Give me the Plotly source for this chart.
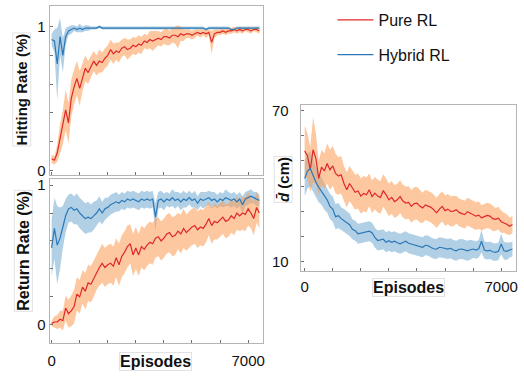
import numpy as np
import plotly.graph_objects as go

W, H = 524, 377

episodes = list(range(0, 7500, 100))

hit_pure = [0.08,0.07,0.12,0.22,0.30,0.42,0.33,0.50,0.58,0.64,
            0.57,0.65,0.71,0.68,0.72,0.76,0.73,0.76,0.75,0.78,
            0.80,0.84,0.81,0.83,0.82,0.85,0.86,0.84,0.85,0.87,
            0.86,0.88,0.87,0.90,0.89,0.91,0.90,0.91,0.92,0.91,
            0.93,0.93,0.92,0.94,0.94,0.93,0.95,0.94,0.95,0.95,
            0.94,0.95,0.96,0.95,0.96,0.95,0.96,0.89,0.95,0.96,
            0.96,0.97,0.96,0.97,0.97,0.98,0.97,0.98,0.97,0.98,
            0.98,0.97,0.98,0.98,0.97]
hit_pure_sd = [0.03,0.03,0.06,0.10,0.12,0.14,0.14,0.13,0.12,0.12,
               0.12,0.10,0.09,0.08,0.08,0.07,0.07,0.08,0.07,0.07,
               0.07,0.07,0.07,0.06,0.07,0.06,0.06,0.07,0.06,0.06,
               0.06,0.06,0.06,0.05,0.05,0.06,0.07,0.06,0.05,0.05,
               0.05,0.06,0.05,0.05,0.06,0.08,0.05,0.04,0.03,0.03,
               0.03,0.03,0.02,0.03,0.02,0.03,0.02,0.08,0.03,0.02,
               0.02,0.02,0.02,0.02,0.02,0.02,0.02,0.02,0.02,0.01,
               0.02,0.02,0.01,0.02,0.02]
hit_hybrid = [0.91,0.90,0.74,0.93,0.80,0.93,0.97,0.98,0.99,0.98,
              0.99,0.98,0.99,0.99,0.99,0.99,0.99,1.00,0.99,0.99,
              0.99,0.99,0.99,0.99,0.99,0.99,0.99,0.99,0.985,0.99,
              0.99,0.99,0.99,0.99,0.99,0.99,0.99,0.99,0.99,0.99,
              0.99,0.99,0.99,0.99,0.99,0.99,0.99,0.99,0.99,0.99,
              0.99,0.99,0.99,0.99,0.99,0.98,0.99,0.99,0.99,0.99,
              0.99,0.99,0.99,0.99,0.98,0.98,0.99,0.99,0.99,0.99,
              0.99,0.99,0.99,0.99,0.99]
hit_hybrid_sd = [0.04,0.08,0.25,0.13,0.12,0.06,0.03,0.03,0.02,0.02,
                 0.03,0.02,0.02,0.02,0.01,0.01,0.01,0.01,0.01,0.01,
                 0.01,0.01,0.01,0.01,0.01,0.01,0.01,0.01,0.01,0.01,
                 0.01,0.01,0.01,0.01,0.01,0.01,0.01,0.01,0.01,0.01,
                 0.01,0.01,0.01,0.01,0.01,0.01,0.01,0.01,0.01,0.01,
                 0.01,0.01,0.01,0.01,0.01,0.01,0.01,0.01,0.01,0.01,
                 0.01,0.01,0.01,0.01,0.01,0.01,0.01,0.01,0.01,0.01,
                 0.01,0.01,0.01,0.01,0.01]

ret_pure = [0.01,0.02,0.02,0.04,0.03,0.12,0.08,0.10,0.13,0.22,
            0.20,0.27,0.24,0.30,0.29,0.33,0.38,0.41,0.44,0.41,
            0.43,0.44,0.42,0.48,0.43,0.49,0.52,0.56,0.58,0.50,
            0.55,0.50,0.56,0.54,0.57,0.59,0.58,0.62,0.63,0.60,
            0.62,0.65,0.66,0.63,0.64,0.67,0.65,0.69,0.66,0.68,
            0.70,0.71,0.68,0.70,0.69,0.72,0.76,0.71,0.74,0.73,
            0.75,0.77,0.74,0.75,0.78,0.76,0.80,0.78,0.80,0.79,
            0.83,0.80,0.76,0.84,0.80]
ret_pure_sd = [0.02,0.04,0.05,0.06,0.07,0.09,0.10,0.11,0.12,0.12,
               0.12,0.12,0.13,0.13,0.13,0.13,0.13,0.13,0.14,0.14,
               0.14,0.14,0.14,0.14,0.15,0.15,0.15,0.15,0.14,0.15,
               0.15,0.15,0.15,0.15,0.15,0.15,0.15,0.14,0.14,0.14,
               0.14,0.14,0.14,0.14,0.14,0.13,0.14,0.14,0.13,0.13,
               0.13,0.13,0.13,0.13,0.13,0.13,0.12,0.13,0.13,0.12,
               0.12,0.12,0.12,0.12,0.12,0.12,0.12,0.11,0.12,0.12,
               0.12,0.11,0.12,0.11,0.11]
ret_hybrid = [0.55,0.69,0.57,0.62,0.70,0.78,0.83,0.84,0.82,0.83,
              0.80,0.78,0.76,0.77,0.76,0.78,0.80,0.83,0.80,0.83,
              0.84,0.86,0.87,0.88,0.87,0.89,0.88,0.90,0.89,0.90,
              0.89,0.88,0.90,0.89,0.90,0.89,0.90,0.77,0.89,0.90,
              0.88,0.90,0.89,0.91,0.89,0.90,0.88,0.90,0.89,0.91,
              0.89,0.90,0.87,0.90,0.89,0.90,0.91,0.89,0.90,0.88,
              0.90,0.89,0.91,0.90,0.89,0.90,0.88,0.90,0.86,0.90,
              0.91,0.92,0.91,0.90,0.89]
ret_hybrid_sd = [0.20,0.22,0.28,0.22,0.15,0.12,0.10,0.10,0.10,0.11,
                 0.11,0.11,0.11,0.11,0.10,0.10,0.09,0.09,0.08,0.08,
                 0.07,0.07,0.07,0.07,0.06,0.06,0.06,0.06,0.06,0.06,
                 0.06,0.06,0.06,0.06,0.06,0.06,0.06,0.10,0.06,0.06,
                 0.06,0.05,0.05,0.06,0.06,0.05,0.06,0.06,0.05,0.05,
                 0.05,0.06,0.05,0.05,0.06,0.05,0.05,0.06,0.05,0.05,
                 0.05,0.05,0.06,0.05,0.05,0.05,0.05,0.05,0.06,0.05,
                 0.05,0.05,0.04,0.05,0.04]

dist_pure = [54.0,52.0,46.5,54.5,51.0,43.0,47.5,46.0,49.0,46.5,
             48.0,45.0,44.0,44.5,41.0,38.5,41.0,39.0,37.5,38.0,
             36.0,37.0,36.5,38.5,35.8,37.2,36.0,35.5,38.2,36.5,
             34.5,35.5,33.8,34.5,35.8,34.0,33.2,33.5,31.9,33.0,
             33.2,32.0,31.3,32.5,31.9,31.5,30.5,29.3,30.8,31.9,
             30.2,30.8,29.9,30.0,30.6,29.5,29.0,28.6,29.8,29.3,
             28.5,28.0,28.4,27.3,27.8,28.3,28.0,27.0,26.7,27.2,
             25.8,25.4,24.8,24.0,24.7]
dist_pure_sd = [10,9,9,13,10,7,7,7,8,8,
                8,8,7.5,7.5,7,7,7,7,7,7,
                7,7,7,6.5,6.5,6.5,6.5,6.5,6.5,6.5,
                6.5,6.5,6.5,6.5,6.5,6.5,6.5,6.5,6.5,6.5,
                6.5,6.5,6,6,6,6,6,6,6,6,
                6,6,6,6,5.5,5.5,5.5,5.5,5.5,5.5,
                5.5,5.5,5.5,5,5,5,5,5,4.5,4.5,
                4.5,4,4,3.5,3.5]
dist_hybrid = [43.0,46.0,47.0,44.0,41.5,39.5,38.0,36.0,34.5,31.9,
               30.8,27.8,28.2,27.0,26.3,25.5,24.6,22.8,22.2,21.0,
               21.2,21.4,21.5,22.0,21.4,19.5,18.3,18.5,18.8,17.6,
               18.2,17.6,18.0,17.4,17.0,17.5,18.0,17.2,16.9,16.5,
               16.2,15.8,15.6,16.4,16.2,15.5,15.0,14.9,15.6,15.4,
               15.0,14.9,15.2,14.5,14.2,14.8,14.9,14.4,14.2,14.6,
               14.9,14.5,15.0,18.0,14.5,14.2,14.4,13.8,13.6,14.0,
               16.9,14.2,14.0,14.5,14.9]
dist_hybrid_sd = [7,7,7,6.5,6,6,5.5,5.5,5,5,
                  5,5,5,4.5,4.5,4.5,4.5,4,4,4,
                  4,4,4,4,4,4,4,4,4,4,
                  4,4,4,4,4,4,4,4,4,4,
                  4,4,4,4,4,4,4,4,4,4,
                  4,4,4,4,4,4,4,4,4,4,
                  3.5,3.5,3.5,4.5,3.5,3.5,3.5,3.5,3.5,3.5,
                  4,3.5,3.5,3,3]

RED = "#e0282a"
RED_FILL = "rgba(252,160,90,0.58)"
BLUE = "#2a78b8"
BLUE_FILL = "rgba(31,119,180,0.35)"
FONT = "Liberation Sans, Arial, sans-serif"

fig = go.Figure()


def add_band(xa, ya, mean, sd, fill):
    m = np.array(mean, dtype=float)
    s = np.array(sd, dtype=float)
    fig.add_trace(go.Scatter(x=episodes, y=m + s, mode="lines", line=dict(width=0),
                             xaxis=xa, yaxis=ya, showlegend=False, hoverinfo="skip"))
    fig.add_trace(go.Scatter(x=episodes, y=m - s, mode="lines", line=dict(width=0),
                             fill="tonexty", fillcolor=fill,
                             xaxis=xa, yaxis=ya, showlegend=False, hoverinfo="skip"))


def add_line(xa, ya, mean, color, name, legend):
    fig.add_trace(go.Scatter(x=episodes, y=mean, mode="lines", line=dict(color=color, width=1.2),
                             xaxis=xa, yaxis=ya, name=name, showlegend=legend,
                             legendgroup=name))


panels = [
    ("x", "y", hit_pure, hit_pure_sd, hit_hybrid, hit_hybrid_sd),
    ("x2", "y2", ret_pure, ret_pure_sd, ret_hybrid, ret_hybrid_sd),
    ("x3", "y3", dist_pure, dist_pure_sd, dist_hybrid, dist_hybrid_sd),
]
for i, (xa, ya, pm, ps, hm, hs) in enumerate(panels):
    add_band(xa, ya, hm, hs, BLUE_FILL)
    add_band(xa, ya, pm, ps, RED_FILL)
    add_line(xa, ya, pm, RED, "Pure RL", i == 0)
    add_line(xa, ya, hm, BLUE, "Hybrid RL", i == 0)


def px_dom(a, b, total):
    return [a / total, b / total]


def py_dom(top, bottom):
    return [1 - bottom / H, 1 - top / H]


def x_range(left_px, right_px, zero_px, px_per_k):
    return [(left_px - zero_px) / px_per_k * 1000, (right_px - zero_px) / px_per_k * 1000]


def y_range(top_px, bottom_px, v0, p0, v1, p1):
    k = (p0 - p1) / (v1 - v0)
    return [v0 - (bottom_px - p0) / k, v0 + (p0 - top_px) / k]


axis_common = dict(showline=True, mirror=True, linecolor="#b4b4b4", linewidth=1,
                   ticks="inside", ticklen=3, tickcolor="#707070", showgrid=False,
                   zeroline=False, tickfont=dict(family=FONT, size=15, color="#111"))

xt_vals = [0, 1000, 2000, 3000, 4000, 5000, 6000, 7000]
xt_text = ["0", "", "", "", "", "", "", "7000"]
rt_vals = [0, 0.2, 0.4, 0.6, 0.8, 1.0]
rt_text = ["0", "", "", "", "", "1"]

fig.update_layout(
    width=W, height=H, margin=dict(l=0, r=0, t=0, b=0),
    paper_bgcolor="white", plot_bgcolor="white",
    font=dict(family=FONT, color="#111"),
    xaxis=dict(domain=px_dom(48, 263, W), range=x_range(48, 263, 50, 28.29),
               tickvals=xt_vals, ticktext=["" for _ in xt_vals], anchor="y", **axis_common),
    yaxis=dict(domain=py_dom(3, 175), range=y_range(3, 175, 0, 170, 1, 24),
               tickvals=rt_vals, ticktext=rt_text, anchor="x", ticklabelstandoff=0, **axis_common),
    xaxis2=dict(domain=px_dom(48, 263, W), range=x_range(48, 263, 50, 28.29),
                tickvals=xt_vals, ticktext=xt_text, anchor="y2", ticklabelstandoff=4, **axis_common),
    yaxis2=dict(domain=py_dom(179, 346), range=y_range(179, 346, 0, 327, 1, 185),
                tickvals=rt_vals, ticktext=rt_text, anchor="x2", ticklabelstandoff=0, **axis_common),
    xaxis3=dict(domain=px_dom(301, 518, W), range=x_range(301, 518, 305, 28.29),
                tickvals=xt_vals, ticktext=xt_text, anchor="y3", ticklabelstandoff=2, **axis_common),
    yaxis3=dict(domain=py_dom(104, 272), range=y_range(104, 272, 10, 262.5, 70, 109.5),
                tickvals=[10, 20, 30, 40, 50, 60, 70], ticktext=["10", "", "", "", "", "", "70"],
                anchor="x3", ticklabelstandoff=8, **axis_common),
    legend=dict(x=333 / W, y=1.0, xanchor="left", yanchor="top",
                font=dict(family=FONT, size=16, color="#111"),
                tracegroupgap=11, itemwidth=36, bgcolor="rgba(0,0,0,0)"),
    showlegend=True,
)

annots = [
    dict(text="<b>Hitting Rate (%)</b>", x=20, y=88, size=15, angle=-90),
    dict(text="<b>Return Rate (%)</b>", x=22, y=252, size=16, angle=-90),
    dict(text="<b><i>d\u0304</i> (cm)</b>", x=283, y=179, size=15, angle=-90),
    dict(text="<b>Episodes</b>", x=155, y=364, size=16, angle=0),
    dict(text="<b>Episodes</b>", x=410, y=289, size=16, angle=0),
]
for a in annots:
    fig.add_annotation(text=a["text"], x=a["x"] / W, y=1 - a["y"] / H, xref="paper", yref="paper",
                       xanchor="center", yanchor="middle", showarrow=False, textangle=a["angle"],
                       font=dict(family=FONT, size=a["size"], color="#111"),
                       bordercolor="#e2e2e2", borderwidth=1, borderpad=0)

fig.write_html("out.html", config={"displayModeBar": False},
               post_script="document.body.style.margin='0';document.body.style.padding='0';")
